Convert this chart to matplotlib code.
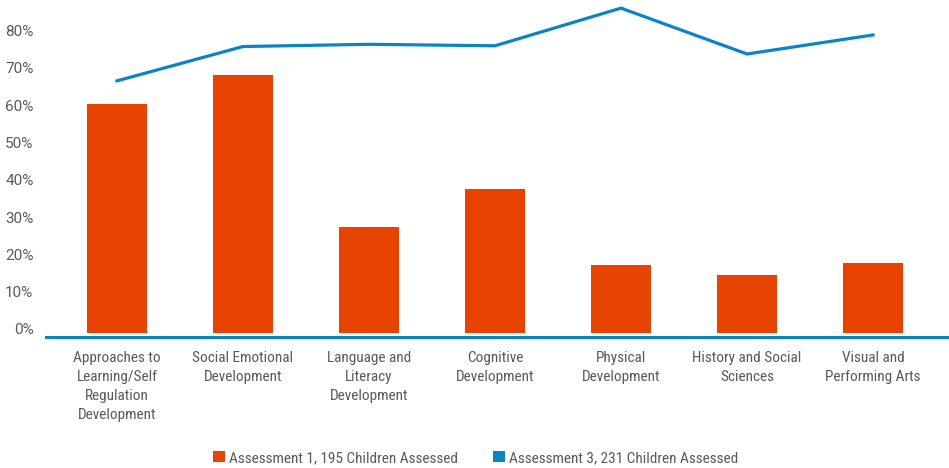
import matplotlib.pyplot as plt
import numpy as np
from matplotlib.patches import Patch
from matplotlib.ticker import PercentFormatter
import matplotlib.transforms as mtransforms

plt.rcParams.update({
    "font.family": ["Roboto Condensed", "Liberation Sans Narrow", "Roboto", "DejaVu Sans"],
    "font.size": 11,
})

# --- Data ---
categories = [
    "Approaches to\nLearning/Self\nRegulation\nDevelopment",
    "Social Emotional\nDevelopment",
    "Language and\nLiteracy\nDevelopment",
    "Cognitive\nDevelopment",
    "Physical\nDevelopment",
    "History and Social\nSciences",
    "Visual and\nPerforming Arts",
]
assessment1 = [61.4, 69.2, 28.4, 38.6, 18.2, 15.6, 18.8]
assessment3 = [67.6, 76.8, 77.4, 77.0, 87.1, 74.8, 79.9]
series_names = ["Assessment 1, 195 Children Assessed",
                "Assessment 3, 231 Children Assessed"]
yticks = [0, 10, 20, 30, 40, 50, 60, 70, 80]

ORANGE = "#e64400"
BLUE = "#0a84c6"
GREY = "#595959"

fig = plt.figure(figsize=(9.49, 4.68), dpi=100)
ax = fig.add_axes([46 / 949, (468 - 337) / 468, 1 - 46 / 949, 337 / 468])

x = np.arange(len(categories))
ax.bar(x, assessment1, width=60 / 126, color=ORANGE, zorder=2)
ax.plot(x, assessment3, color=BLUE, linewidth=2.3, zorder=3, solid_joinstyle="miter")

ax.set_xlim(-0.5 - 8 / 126, 6.5 + 13 / 126)
ax.set_ylim(-4 / 3.73, 333 / 3.73)

ax.set_yticks(yticks)
ax.yaxis.set_major_formatter(PercentFormatter(100, decimals=0))
ax.set_xticks(x)
ax.set_xticklabels(categories, linespacing=1.45)

for s in ["top", "right", "left"]:
    ax.spines[s].set_visible(False)
ax.spines["bottom"].set_color(BLUE)
ax.spines["bottom"].set_linewidth(2.2)

ax.tick_params(axis="both", length=0, colors=GREY, labelsize=11)
ax.tick_params(axis="y", pad=9)
ax.tick_params(axis="x", pad=10)

# y labels use the regular (wider) face and sit a little above the value
off = mtransforms.ScaledTranslation(0, 4 / 100, fig.dpi_scale_trans)
for lbl in ax.get_yticklabels():
    lbl.set_transform(lbl.get_transform() + off)
    lbl.set_family(["Roboto", "DejaVu Sans"])

handles = [Patch(facecolor=ORANGE, edgecolor="none"),
           Patch(facecolor=BLUE, edgecolor="none")]
fig.legend(handles, series_names, loc="center", bbox_to_anchor=(476 / 949, 1 - 458 / 468),
           ncols=2, frameon=False, handlelength=0.75, handleheight=0.75,
           handletextpad=0.3, columnspacing=2.3, labelcolor=GREY, fontsize=11)

fig.savefig("out.png", dpi=100)
